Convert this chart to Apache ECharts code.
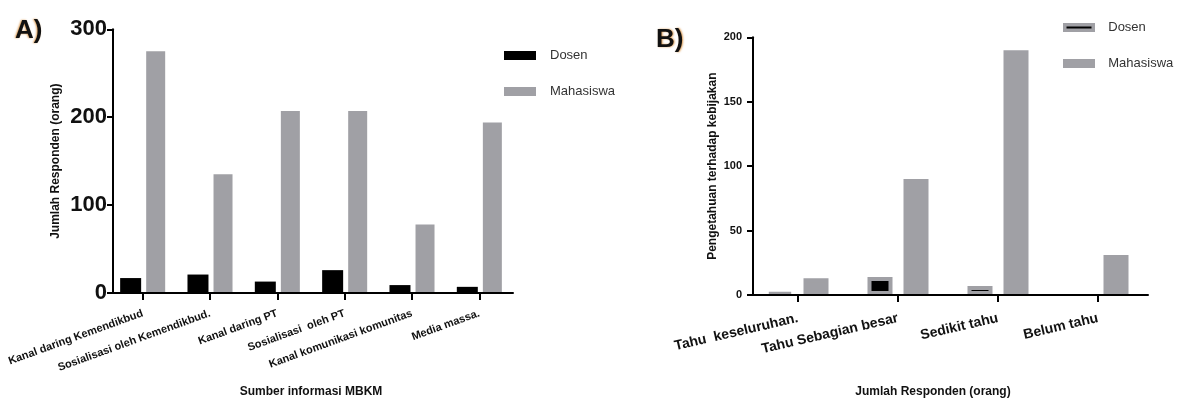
<!DOCTYPE html>
<html><head><meta charset="utf-8">
<script src="https://cdn.jsdelivr.net/npm/echarts@6/dist/echarts.min.js"></script>
<style>html,body{margin:0;padding:0;background:#fff}#c{width:1187px;height:403px}</style>
</head><body><div id="c"></div>
<script>
// ---- Data: panel A ----
const catsA = ['Kanal daring Kemendikbud', 'Sosialisasi oleh Kemendikbud.', 'Kanal daring PT', 'Sosialisasi  oleh PT', 'Kanal komunikasi komunitas', 'Media massa.'];
const dosenA = [17, 21, 13, 26, 9, 7];
const mahasiswaA = [275, 135, 207, 207, 78, 194];
const ticksA = [0, 100, 200, 300];
// ---- Data: panel B ----
const catsB = ['Tahu  keseluruhan.', 'Tahu Sebagian besar', 'Sedikit tahu', 'Belum tahu'];
const dosenB = [2, 14, 7, 0];
const mahasiswaB = [13, 90, 190, 31];
const ticksB = [0, 50, 100, 150, 200];

const FONT = '"Liberation Sans", Arial, sans-serif';
const GRAY = '#a0a0a5';
const chart = echarts.init(document.getElementById('c'));

function yAx(idx, max, interval, fs, margin, name, gap, off) {
  return {
    gridIndex: idx, type: 'value', min: 0, max: max, interval: interval, offset: off,
    splitLine: { show: false },
    axisLine: { show: true, lineStyle: { color: '#000', width: 2 } },
    axisTick: { show: true, length: 6, lineStyle: { color: '#000', width: 2 } },
    axisLabel: { color: '#111', fontFamily: FONT, fontWeight: 'bold', fontSize: fs, margin: margin },
    name: name, nameLocation: 'middle', nameGap: gap, nameRotate: 90,
    nameTextStyle: { color: '#111', fontFamily: FONT, fontWeight: 'bold', fontSize: 12 }
  };
}

const option = {
  animation: false,
  title: [
    { text: 'A)', left: 10, top: 13, textStyle: { fontFamily: FONT, fontSize: 26, fontWeight: 'bold', color: '#111', textShadowColor: 'rgba(210,130,40,0.8)', textShadowBlur: 2, textShadowOffsetX: -1 } },
    { text: 'B)', left: 651, top: 22, textStyle: { fontFamily: FONT, fontSize: 26, fontWeight: 'bold', color: '#111', textShadowColor: 'rgba(210,130,40,0.8)', textShadowBlur: 2, textShadowOffsetX: 1 } }
  ],
  legend: [
    { data: ['Dosen', 'Mahasiswa'], orient: 'vertical', left: 499, top: 44, icon: 'rect', itemWidth: 32, itemHeight: 9, itemGap: 23,
      textStyle: { fontFamily: FONT, fontSize: 13, color: '#333', padding: [0, 0, 0, 9] },
      selectedMode: false },
    { data: ['Dosen B', 'Mahasiswa B'], orient: 'vertical', left: 1058, top: 16, icon: 'rect', itemWidth: 28.5, itemHeight: 5.5, itemGap: 23,
      itemStyle: { borderWidth: 3.5, borderColor: GRAY },
      formatter: n => n.replace(' B', ''),
      textStyle: { fontFamily: FONT, fontSize: 13, color: '#333', padding: [0, 0, 0, 10] },
      selectedMode: false }
  ],
  grid: [
    { left: 109, top: 29.3, width: 404, height: 266.4 },
    { left: 748, top: 37.3, width: 400, height: 260.4 }
  ],
  xAxis: [
    { gridIndex: 0, type: 'category', data: catsA, z: 5,
      axisLine: { lineStyle: { color: '#000', width: 2 } },
      axisTick: { show: true, alignWithLabel: true, length: 7, lineStyle: { color: '#000', width: 2 } },
      axisLabel: { rotate: 20, interval: 0, margin: 20, color: '#111', fontFamily: FONT, fontWeight: 'bold', fontSize: 11 },
      name: 'Sumber informasi MBKM', nameLocation: 'middle', nameGap: 93,
      nameTextStyle: { color: '#111', fontFamily: FONT, fontWeight: 'bold', fontSize: 12 } },
    { gridIndex: 1, type: 'category', data: catsB, z: 5,
      axisLine: { lineStyle: { color: '#000', width: 2 } },
      axisTick: { show: true, alignWithLabel: true, length: 7, lineStyle: { color: '#000', width: 2 } },
      axisLabel: { rotate: 13, interval: 0, margin: 23, color: '#111', fontFamily: FONT, fontWeight: 'bold', fontSize: 14 },
      name: 'Jumlah Responden (orang)', nameLocation: 'middle', nameGap: 91,
      nameTextStyle: { color: '#111', fontFamily: FONT, fontWeight: 'bold', fontSize: 12, padding: [0, 30, 0, 0] } }
  ],
  yAxis: [
    yAx(0, ticksA[ticksA.length - 1], ticksA[1] - ticksA[0], 22, 6, 'Jumlah Responden (orang)', 51, -4),
    yAx(1, ticksB[ticksB.length - 1], ticksB[1] - ticksB[0], 11, 11, 'Pengetahuan terhadap kebijakan', 34, -5)
  ],
  series: [
    { name: 'Dosen', type: 'bar', xAxisIndex: 0, yAxisIndex: 0, data: dosenA, barWidth: 21, barGap: '24%',
      itemStyle: { color: '#000' } },
    { name: 'Mahasiswa', type: 'bar', xAxisIndex: 0, yAxisIndex: 0, data: mahasiswaA, barWidth: 19,
      itemStyle: { color: GRAY } },
    { name: 'Dosen B', type: 'bar', xAxisIndex: 1, yAxisIndex: 1, barWidth: 25, barGap: '44%',
      data: dosenB.map(v => v === 0 ? { value: v, itemStyle: { borderWidth: 0 } } : v),
      itemStyle: { color: '#000', borderColor: GRAY, borderWidth: 4 } },
    { name: 'Mahasiswa B', type: 'bar', xAxisIndex: 1, yAxisIndex: 1, barWidth: 25, data: mahasiswaB,
      itemStyle: { color: GRAY, borderColor: GRAY, borderWidth: 4 } }
  ]
};
chart.setOption(option);
</script></body></html>
